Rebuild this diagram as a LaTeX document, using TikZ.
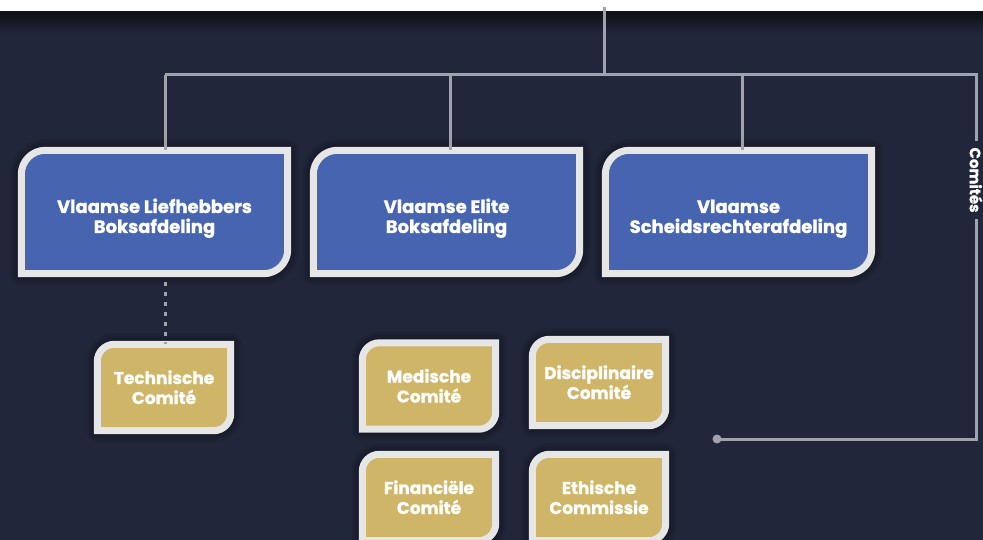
\documentclass[tikz,border=0pt]{standalone}
\usepackage{fontspec}
\newfontfamily\poppins{Poppins}[BoldFeatures={FakeBold=1.1}]

\definecolor{achtergrond}{HTML}{21263A}
\definecolor{bovenrand}{HTML}{0E1117}
\definecolor{blauw}{HTML}{4664B0}
\definecolor{goud}{HTML}{CFB567}
\definecolor{randgrijs}{HTML}{E6E6E6}
\definecolor{lijngrijs}{HTML}{A0A3AA}
\definecolor{schaduwkleur}{HTML}{07080C}

\pgfdeclarelayer{achter}
\pgfdeclarelayer{vormen}
\pgfsetlayers{achter,vormen,main}

\tikzset{
	rand/.style={draw=randgrijs, line width=7pt, line join=miter},
	schaduw/.style={draw=schaduwkleur, fill=schaduwkleur, line join=round},
	afdeling/.style={minimum width=266pt, minimum height=123pt, inner sep=0pt, align=center,
		text=white, text height=42pt, text depth=0pt, font=\poppins\bfseries\fontsize{18}{20}\selectfont},
	comite/.style={afdeling, minimum width=133pt, minimum height=86pt, text height=33pt,
		font=\poppins\bfseries\fontsize{17}{20}\selectfont},
	lijn/.style={draw=lijngrijs, line width=3pt},
}

% blad-vorm: rond linksboven en rechtsonder
\newcommand{\bladpad}[2]{(#1.north east) [rounded corners=#2] -- (#1.north west) [sharp corners] -- (#1.south west) [rounded corners=#2] -- (#1.south east) [sharp corners] -- cycle}
\newcommand{\blad}[3]{%
	\foreach \b/\o in {22/0.10, 16/0.13, 10/0.17, 4/0.22}
		{\path[schaduw, line width=\b pt, opacity=\o, shift={(4,8)}] \bladpad{#1}{#3};}
	\path[rand, fill=#2] \bladpad{#1}{#3};}

\begin{document}
\begin{tikzpicture}[x=1pt, y=-1pt]
	\useasboundingbox (0,0) rectangle (983,540);

	% Achtergrond
	\begin{pgfonlayer}{achter}
		\fill[white] (0,0) rectangle (983,12);
		\fill[achtergrond] (0,12) rectangle (983,540);
		\shade[top color=bovenrand, bottom color=achtergrond] (0,12) rectangle (983,34);
	\end{pgfonlayer}

	% Afdelingen
	\node[afdeling] (liefhebbers) at (154.5,212) {Vlaamse Liefhebbers\\Boksafdeling};
	\node[afdeling] (elite) at (446.5,212) {Vlaamse Elite\\Boksafdeling};
	\node[afdeling] (scheids) at (738.5,212) {Vlaamse\\Scheidsrechterafdeling};

	% Comités
	\node[comite] (technisch) at (164,387.5) {Technische\\Comité};
	\node[comite] (medisch) at (429,386) {Medische\\Comité};
	\node[comite] (disciplinair) at (599,382.5) {Disciplinaire\\Comité};
	\node[comite] (financieel) at (429,497.5) {Financiële\\Comité};
	\node[comite] (ethisch) at (599,497.5) {Ethische\\Commissie};

	\begin{pgfonlayer}{vormen}
		\begin{scope}
			\clip (0,0) rectangle (983,540);
			\blad{liefhebbers}{blauw}{24pt}
			\blad{elite}{blauw}{24pt}
			\blad{scheids}{blauw}{24pt}
			\blad{technisch}{goud}{17pt}
			\blad{medisch}{goud}{17pt}
			\blad{disciplinair}{goud}{17pt}
			\blad{financieel}{goud}{17pt}
			\blad{ethisch}{goud}{17pt}
		\end{scope}
	\end{pgfonlayer}

	% Lijnen
	\coordinate (top) at (604,7);
	\coordinate (split) at (604,75);
	\coordinate (links) at (165,75);
	\coordinate (midden) at (450,75);
	\coordinate (rechts) at (742,75);
	\coordinate (hoek) at (976,75);
	\coordinate (hoekonder) at (976,439);
	\coordinate (punt) at (717,439);

	\node[rotate=-90, text=white, inner sep=6pt, font=\poppins\bfseries\fontsize{15}{15}\selectfont] (comites) at (976,180) {Comités};

	\draw[lijn] (top) -- (split);
	\draw[lijn] (links) -- (hoek) -- (comites.west);
	\draw[lijn] (comites.east) -- (hoekonder) -- (punt);
	\fill[lijngrijs] (punt) circle (4.5pt);
	\draw[lijn] (links) -- (links |- liefhebbers.north);
	\draw[lijn] (midden) -- (midden |- elite.north);
	\draw[lijn] (rechts) -- (rechts |- scheids.north);
	\draw[lijn, dash pattern=on 4pt off 6pt] (165,282) -- (technisch.north -| 165,0);
\end{tikzpicture}
\end{document}
